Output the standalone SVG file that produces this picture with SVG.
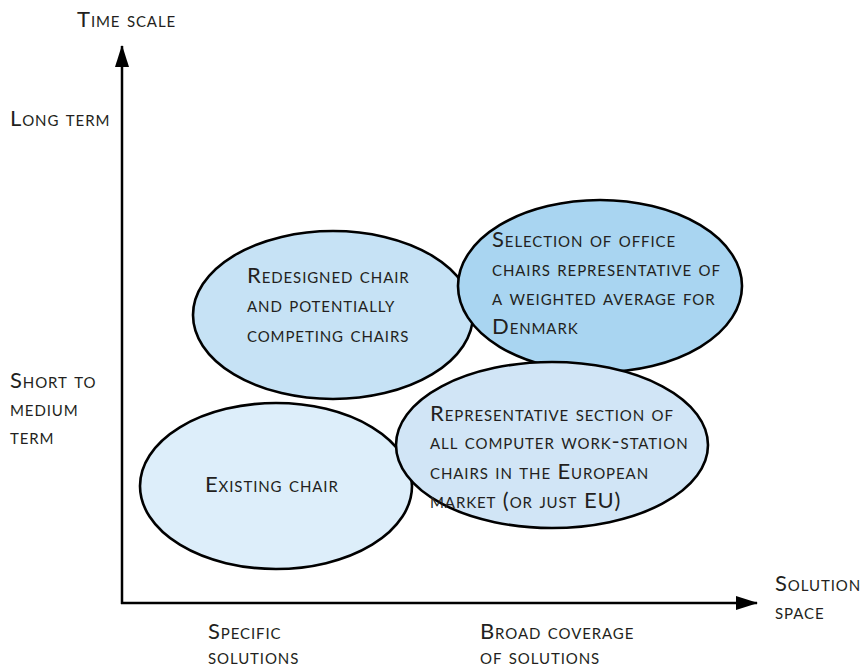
<svg xmlns="http://www.w3.org/2000/svg" width="866" height="671" viewBox="0 0 866 671">
<style>
text{font-family:"Lato","Open Sans","Liberation Sans",sans-serif;font-variant:small-caps;font-size:22px;fill:#231f20;letter-spacing:0.9px}
.e{stroke:#000;stroke-width:2.6}
.ax{stroke:#000;stroke-width:2.5;fill:none}
</style>
<defs>
<marker id="ah" viewBox="0 0 22 14" refX="21" refY="7" markerWidth="22" markerHeight="14" markerUnits="userSpaceOnUse" orient="auto">
<path d="M0,0 L22,7 L0,14 Z" fill="#000"/>
</marker>
</defs>
<g id="axes-labels">
<text x="77" y="27">Time scale</text>
<text x="10" y="126">Long term</text>
<text x="10" y="388">Short to</text>
<text x="10" y="416">medium</text>
<text x="10" y="444">term</text>
<text x="775" y="591">Solution</text>
<text x="775" y="619">space</text>
<text x="208" y="639">Specific</text>
<text x="208" y="664">solutions</text>
<text x="480" y="639">Broad coverage</text>
<text x="480" y="664">of solutions</text>
</g>
<g id="connectors">
<path class="ax" d="M122,604 L122,46" marker-end="url(#ah)"/>
<path class="ax" d="M121,603 L757,603" marker-end="url(#ah)"/>
</g>
<g id="n-redesigned">
<ellipse class="e" cx="333" cy="315" rx="140" ry="84" fill="#c6e2f5"/>
<text x="247" y="283">Redesigned chair</text>
<text x="247" y="312">and potentially</text>
<text x="247" y="342">competing chairs</text>
</g>
<g id="n-selection">
<ellipse class="e" cx="600" cy="286" rx="142" ry="86" fill="#a9d5f1"/>
<text x="492" y="247">Selection of office</text>
<text x="492" y="276">chairs representative of</text>
<text x="492" y="305">a weighted average for</text>
<text x="492" y="334">Denmark</text>
</g>
<g id="n-existing">
<ellipse class="e" cx="276" cy="486" rx="136" ry="83" fill="#ddeefa"/>
<text x="205" y="492">Existing chair</text>
</g>
<g id="n-representative">
<ellipse class="e" cx="552" cy="445" rx="156" ry="83" fill="#d1e5f6"/>
<text x="430" y="421">Representative section of</text>
<text x="430" y="449">all computer work-station</text>
<text x="430" y="479">chairs in the European</text>
<text x="430" y="508">market (or just EU)</text>
</g>
</svg>
